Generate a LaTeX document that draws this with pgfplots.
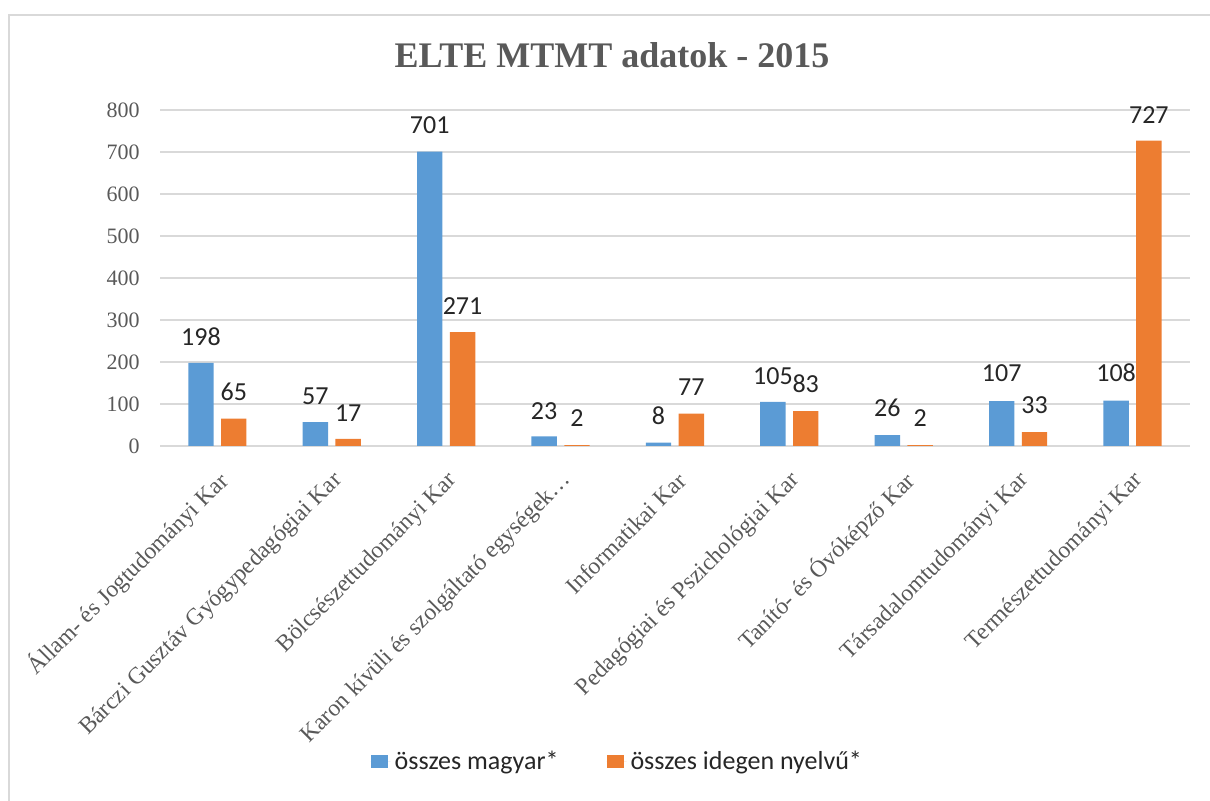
\documentclass[border=0pt]{standalone}
\usepackage{fontspec}
\setmainfont{Liberation Serif}
\newfontfamily\calibri{Carlito}
\usepackage{pgfplots}
\pgfplotsset{compat=1.18}
\usepackage{pgfplotstable}
\definecolor{cblue}{HTML}{5B9BD5}
\definecolor{corange}{HTML}{ED7D31}
\definecolor{txtgray}{HTML}{595959}
\definecolor{gridgray}{HTML}{D9D9D9}
\definecolor{lbl}{HTML}{262626}

\pgfplotstableread{
x mag ide
0 198 65
1 57 17
2 701 271
3 23 2
4 8 77
5 105 83
6 26 2
7 107 33
8 108 727
}\bardata

\pgfplotstableread{
x ly lab
0 260 198
1 119 57
2 764 701
3 83 23
4 71 8
5 167 105
6 90 26
7 174 107
8 174 108
}\labmag

\pgfplotstableread{
x ly lab
0 129 65
1 79 17
2 333 271
3 67 2
4 140 77
5 148 83
6 67 2
7 98 33
8 788 727
}\labide

\begin{document}
\begin{tikzpicture}
\path[use as bounding box] (-80.1pt,-177.5pt) rectangle (524.9pt,223pt);
\draw[gridgray, line width=1pt] (-75.6pt,-178pt) -- (-75.6pt,215.5pt) -- (525pt,215.5pt);
\begin{axis}[
  at={(0pt,0pt)}, anchor=south west,
  scale only axis, width=514.75pt, height=168pt,
  xmin=-0.5, xmax=8.5, ymin=0, ymax=800,
  clip=false,
  ytick={0,100,...,800},
  xtick={0,...,8},
  xticklabels={{Állam- és Jogtudományi Kar},{Bárczi Gusztáv Gyógypedagógiai Kar},{Bölcsészettudományi Kar},{Karon kívüli  és szolgáltató egységek…},{Informatikai Kar},{Pedagógiai és Pszichológiai Kar},{Tanító- és Óvóképző Kar},{Társadalomtudományi Kar},{Természettudományi Kar}},
  xticklabel style={rotate=45, anchor=east, font=\fontsize{11.8}{14}\selectfont, text=txtgray, xshift=-5pt, yshift=-13.5pt},
  yticklabel style={font=\fontsize{11}{13}\selectfont, text=txtgray, xshift=-6.8pt},
  /pgf/number format/assume math mode=true,
  axis line style={draw=none},
  major tick length=0pt,
  ymajorgrids,
  major grid style={gridgray, line width=1pt},
  legend style={at={(0.445,-0.940)}, anchor=center, draw=none, fill=none,
    legend columns=2, font=\calibri\fontsize{13}{15}\selectfont, text=lbl,
    /tikz/every even column/.append style={column sep=22pt}},
]
\addplot[ybar, bar width=12.7pt, bar shift=-8.2pt, fill=cblue, draw=none,
  legend image code/.code={\fill[cblue] (0pt,-3.3pt) rectangle (8.5pt,3.3pt); \path (0pt,0pt) -- (10pt,0pt);}]
  table[x=x, y=mag] {\bardata};
\addlegendentry{összes magyar*}
\addplot[ybar, bar width=12.7pt, bar shift=8.2pt, fill=corange, draw=none,
  legend image code/.code={\fill[corange] (0pt,-3.3pt) rectangle (8.5pt,3.3pt); \path (0pt,0pt) -- (10pt,0pt);}]
  table[x=x, y=ide] {\bardata};
\addlegendentry{összes idegen nyelvű*}
\addplot[draw=none, mark=none, forget plot, nodes near coords, point meta=explicit symbolic,
  every node near coord/.append style={anchor=center, xshift=-8.2pt, font=\calibri\fontsize{13}{15}\selectfont, text=lbl}]
  table[x=x, y=ly, meta=lab] {\labmag};
\addplot[draw=none, mark=none, forget plot, nodes near coords, point meta=explicit symbolic,
  every node near coord/.append style={anchor=center, xshift=8.2pt, font=\calibri\fontsize{13}{15}\selectfont, text=lbl}]
  table[x=x, y=ly, meta=lab] {\labide};
\end{axis}
\node[font=\bfseries\fontsize{18}{20}\selectfont, text=txtgray] at (225.9pt,195.5pt) {ELTE MTMT adatok - 2015};
\end{tikzpicture}
\end{document}
